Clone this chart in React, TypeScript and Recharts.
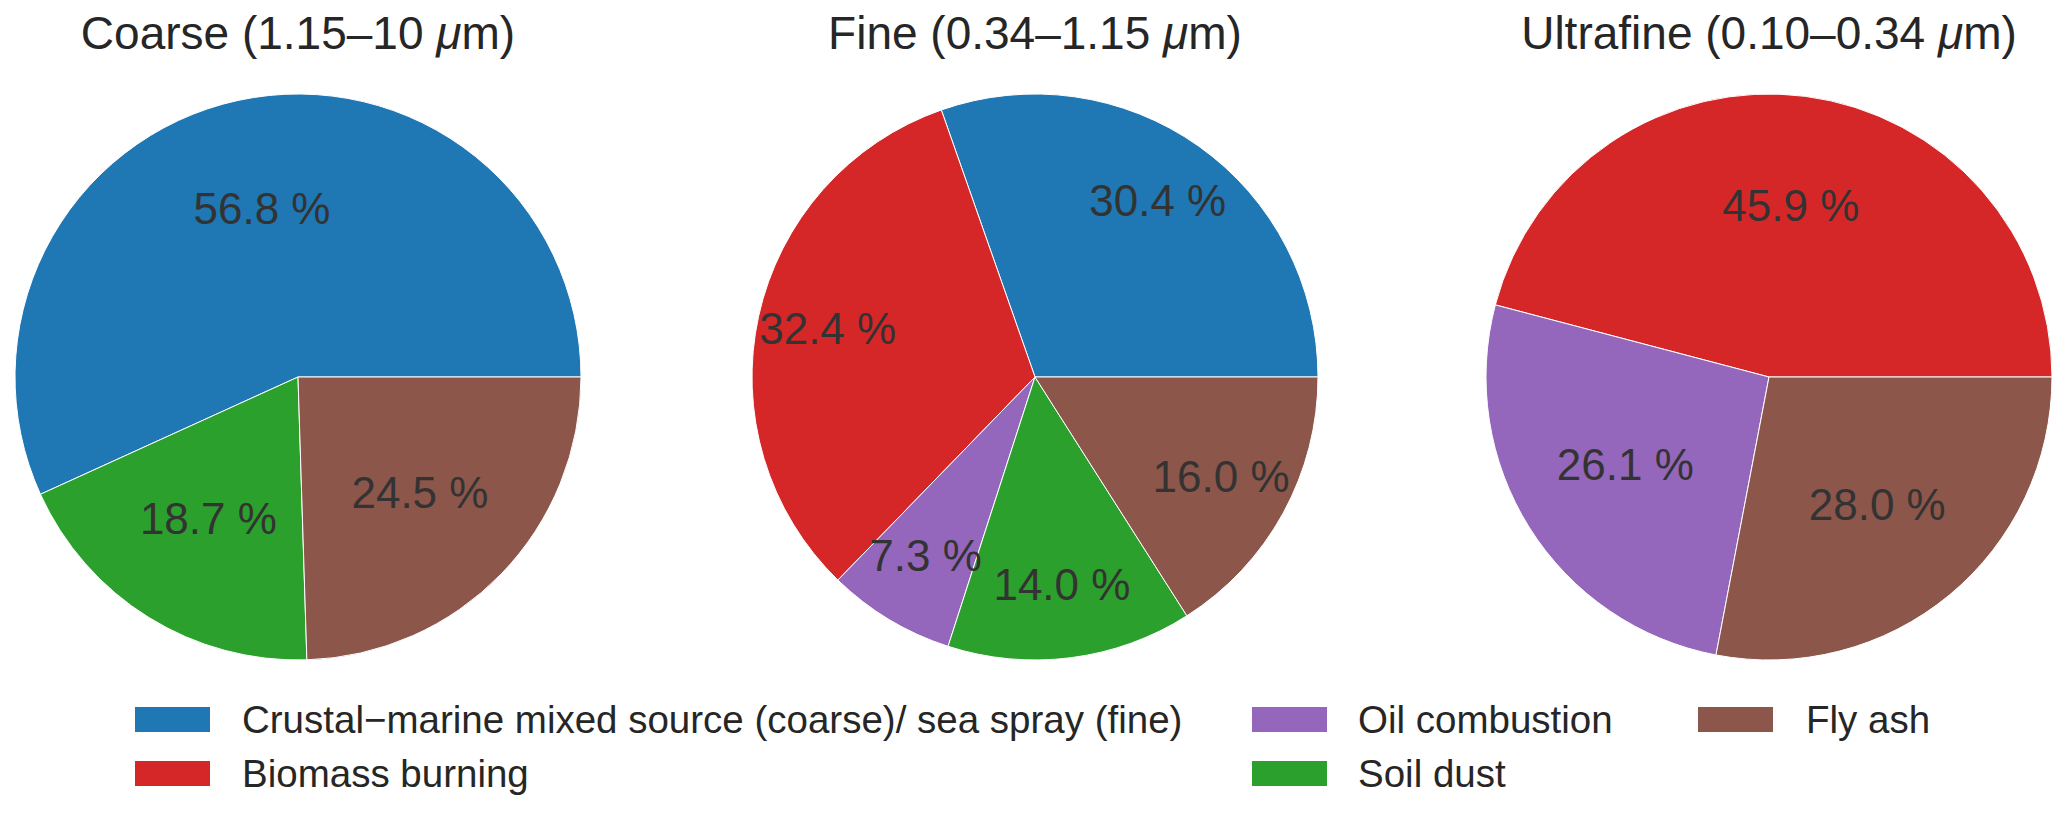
import React from 'react';
import { PieChart, Pie, Cell } from 'recharts';

const W = 2067;
const H = 813;
const FONT = '"Liberation Sans", Arial, Helvetica, sans-serif';
const RAD = Math.PI / 180;

// Source categories and colours
const sourceNames = [
  'Crustal\u2212marine mixed source (coarse)/ sea spray (fine)',
  'Biomass burning',
  'Oil combustion',
  'Soil dust',
  'Fly ash',
];
const sourceColors: Record<string, string> = {
  'Crustal\u2212marine mixed source (coarse)/ sea spray (fine)': '#1f77b4',
  'Biomass burning': '#d62728',
  'Oil combustion': '#9467bd',
  'Soil dust': '#2ca02c',
  'Fly ash': '#8c564b',
};

// Coarse (1.15–10 µm)
const coarseSources = [sourceNames[0], sourceNames[3], sourceNames[4]];
const coarseValues = [56.8, 18.7, 24.5];

// Fine (0.34–1.15 µm)
const fineSources = [sourceNames[0], sourceNames[1], sourceNames[2], sourceNames[3], sourceNames[4]];
const fineValues = [30.4, 32.4, 7.3, 14.0, 16.0];

// Ultrafine (0.10–0.34 µm)
const ultrafineSources = [sourceNames[1], sourceNames[2], sourceNames[4]];
const ultrafineValues = [45.9, 26.1, 28.0];

const panelTitles = [
  { pre: 'Coarse (1.15\u201310 ', post: 'm)' },
  { pre: 'Fine (0.34\u20131.15 ', post: 'm)' },
  { pre: 'Ultrafine (0.10\u20130.34 ', post: 'm)' },
];

// legend layout (columns as in the figure)
const legendItems = [
  { name: sourceNames[0], col: 0, row: 0 },
  { name: sourceNames[1], col: 0, row: 1 },
  { name: sourceNames[2], col: 1, row: 0 },
  { name: sourceNames[3], col: 1, row: 1 },
  { name: sourceNames[4], col: 2, row: 0 },
];

const toData = (names: string[], values: number[]) =>
  names.map((n, i) => ({ name: n, value: values[i] }));

const panels = [
  { data: toData(coarseSources, coarseValues), cx: 298, pct: 0.6 },
  { data: toData(fineSources, fineValues), cx: 1035, pct: 0.75 },
  { data: toData(ultrafineSources, ultrafineValues), cx: 1769, pct: 0.6 },
];

const CY = 377;
const R = 283;

const makeLabel = (dist: number) => (props: any) => {
  const { cx, cy, midAngle, outerRadius, value } = props;
  const r = outerRadius * dist;
  const x = cx + r * Math.cos(-midAngle * RAD);
  const y = cy + r * Math.sin(-midAngle * RAD) - 3;
  return (
    <text
      x={x}
      y={y}
      textAnchor="middle"
      dominantBaseline="central"
      fontSize={44}
      fontFamily={FONT}
      fill="#333333"
    >
      {`${Number(value).toFixed(1)} %`}
    </text>
  );
};

const legendColX = [135, 1252, 1698];
const legendTextX = [242, 1358, 1806];
const legendRowY = [707, 761];

export default function App() {
  return (
    <div
      style={{
        position: 'absolute',
        left: 0,
        top: 0,
        width: W,
        height: H,
        background: '#ffffff',
        fontFamily: FONT,
      }}
    >
      <PieChart width={W} height={H} margin={{ top: 0, right: 0, bottom: 0, left: 0 }}>
        {panels.map((p, pi) => (
          <Pie
            key={pi}
            data={p.data}
            dataKey="value"
            nameKey="name"
            cx={p.cx}
            cy={CY}
            outerRadius={R}
            innerRadius={0}
            startAngle={0}
            endAngle={360}
            stroke="#ffffff"
            strokeWidth={1}
            isAnimationActive={false}
            labelLine={false}
            label={makeLabel(p.pct)}
          >
            {p.data.map((d, i) => (
              <Cell key={i} fill={sourceColors[d.name]} />
            ))}
          </Pie>
        ))}
      </PieChart>
      <svg
        width={W}
        height={H}
        style={{ position: 'absolute', left: 0, top: 0, pointerEvents: 'none' }}
      >
        {panelTitles.map((t, i) => (
          <text
            key={i}
            x={panels[i].cx}
            y={49}
            textAnchor="middle"
            fontSize={46}
            fontFamily={FONT}
            fill="#262626"
          >
            {t.pre}
            <tspan fontStyle="italic">{'\u03bc'}</tspan>
            {t.post}
          </text>
        ))}
        {legendItems.map((it, i) => (
          <g key={i}>
            <rect
              x={legendColX[it.col]}
              y={legendRowY[it.row]}
              width={75}
              height={25}
              fill={sourceColors[it.name]}
            />
            <text
              x={legendTextX[it.col]}
              y={legendRowY[it.row] + 26}
              fontSize={38.5}
              fontFamily={FONT}
              fill="#262626"
            >
              {it.name}
            </text>
          </g>
        ))}
      </svg>
    </div>
  );
}
